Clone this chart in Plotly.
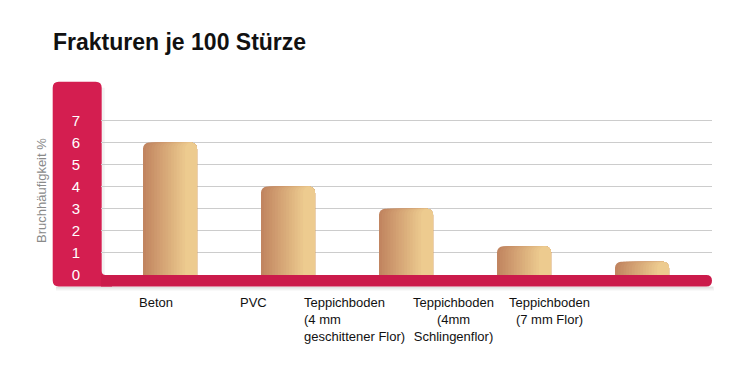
import plotly.graph_objects as go

# ---- data ----
categories = ["Beton", "PVC", "Teppichboden (4 mm geschittener Flor)",
              "Teppichboden (4mm Schlingenflor)", "Teppichboden (7 mm Flor)"]
values = [6, 4, 3, 1.3, 0.6]
cat_labels = ["Beton", "PVC", "Teppichboden<br>(4 mm<br>geschittener Flor)",
              "Teppichboden<br>(4mm<br>Schlingenflor)", "Teppichboden<br>(7 mm Flor)"]
y_tickvals = [0, 1, 2, 3, 4, 5, 6, 7]
y_ticktext = ["0", "1", "2", "3", "4", "5", "6", "7"]
title_text = "Frakturen je 100 Stürze"
y_title = "Bruchhäufigkeit %"

# ---- layout geometry (pixels) ----
W, H = 754, 375
ML, MR, MT, MB = 101, 42, 107, 100
PW, PH = W - ML - MR, H - MT - MB
y0px = H - MB  # pixel of y=0


def X(px):
    return (px - ML) / PW


def Y(py):
    return (y0px - py) / PH


def P(px, py):
    return f"{X(px):.5f},{Y(py):.5f}"


RED = "#D41E50"
RED_BAND = "#CB1B4B"
c_left = (193, 133, 96)
c_right = (237, 203, 143)

fig = go.Figure()

bw = 0.458
N = 16
dx_max = bw - 12 / 118.0
for k in range(N):
    t = k / (N - 1)
    dx = dx_max * t
    col = tuple(round(c_left[i] + (c_right[i] - c_left[i]) * t) for i in range(3))
    fig.add_trace(go.Bar(
        x=list(range(len(categories))), y=values,
        offset=-bw / 2 + dx, width=bw - dx,
        marker=dict(color="rgb(%d,%d,%d)" % col, cornerradius=6, line=dict(width=0)),
        hoverinfo="skip", showlegend=False,
    ))

# red L-shaped frame
r = 6
ri = 4
xl, xr, yt, yb = 52.7, 101.7, 81.7, 286.5
vpath = ("M " + P(xl + r, yt) + " L " + P(xr - r, yt) + " Q " + P(xr, yt) + " " + P(xr, yt + r)
         + " L " + P(xr, y0px - ri) + " Q " + P(xr, y0px) + " " + P(xr + ri, y0px)
         + " L " + P(112, y0px) + " L " + P(112, yb) + " L " + P(xl + r, yb)
         + " Q " + P(xl, yb) + " " + P(xl, yb - r) + " L " + P(xl, yt + r)
         + " Q " + P(xl, yt) + " " + P(xl + r, yt) + " Z")
bend = 712
hb = (yb - y0px) / 2
bpath = ("M " + P(101, y0px) + " L " + P(bend - hb, y0px) + " Q " + P(bend, y0px) + " " + P(bend, y0px + hb)
         + " Q " + P(bend, yb) + " " + P(bend - hb, yb) + " L " + P(101, yb) + " Z")

shapes = [
    # soft shadows
    dict(type="rect", xref="paper", yref="paper", x0=X(56), x1=X(714), y0=Y(yb), y1=Y(yb + 4),
         fillcolor="rgba(0,0,0,0.05)", line=dict(width=0), layer="below"),
    dict(type="rect", xref="paper", yref="paper", x0=X(56), x1=X(713), y0=Y(yb), y1=Y(yb + 2),
         fillcolor="rgba(0,0,0,0.06)", line=dict(width=0), layer="below"),
    dict(type="rect", xref="paper", yref="paper", x0=X(xr), x1=X(xr + 3), y0=Y(y0px), y1=Y(yt + 6),
         fillcolor="rgba(0,0,0,0.05)", line=dict(width=0), layer="below"),
    dict(type="path", xref="paper", yref="paper", path=vpath, fillcolor=RED,
         line=dict(width=0), layer="below"),
    dict(type="path", xref="paper", yref="paper", path=bpath, fillcolor=RED_BAND,
         line=dict(width=0), layer="above"),
]

label_shift = [-14, -35, -52, -71, -93]
label_align = ["center", "center", "left", "center", "center"]
annotations = []
for i, lab in enumerate(cat_labels):
    annotations.append(dict(
        x=i, xref="x", y=Y(293), yref="paper", xshift=label_shift[i],
        text=lab, showarrow=False, align=label_align[i], xanchor="center", yanchor="top",
        font=dict(family="Liberation Sans, Arial, sans-serif", size=13, color="#111111"),
    ))
annotations.append(dict(
    x=X(41), y=Y(191), xref="paper", yref="paper", text=y_title, textangle=-90,
    showarrow=False, xanchor="center", yanchor="middle",
    font=dict(family="Liberation Sans, Arial, sans-serif", size=13, color="#8a8a8a"),
))

fig.update_layout(
    width=W, height=H,
    margin=dict(l=ML, r=MR, t=MT, b=MB, pad=0),
    paper_bgcolor="white", plot_bgcolor="rgba(0,0,0,0)",
    barmode="overlay",
    title=dict(text=title_text, x=53 / W, xanchor="left", xref="container",
               y=1 - 42 / H, yanchor="middle", yref="container",
               font=dict(family="Liberation Sans, Arial, sans-serif", size=23, color="#111111",
                         weight="bold")),
    xaxis=dict(range=[-0.585, 4.593], showticklabels=False, showgrid=False, zeroline=False,
               showline=False, ticks=""),
    yaxis=dict(range=[0, PH / 22.1], tickvals=y_tickvals, ticktext=y_ticktext,
               showgrid=True, gridcolor="#CCCCCC", gridwidth=1, zeroline=False, showline=False,
               ticks="outside", ticklen=17, tickcolor="rgba(0,0,0,0)",
               tickfont=dict(family="Liberation Sans, Arial, sans-serif", size=15, color="white")),
    shapes=shapes,
    annotations=annotations,
)

fig.write_html("out.html", config={"displayModeBar": False},
               post_script="document.body.style.margin='0px';")
